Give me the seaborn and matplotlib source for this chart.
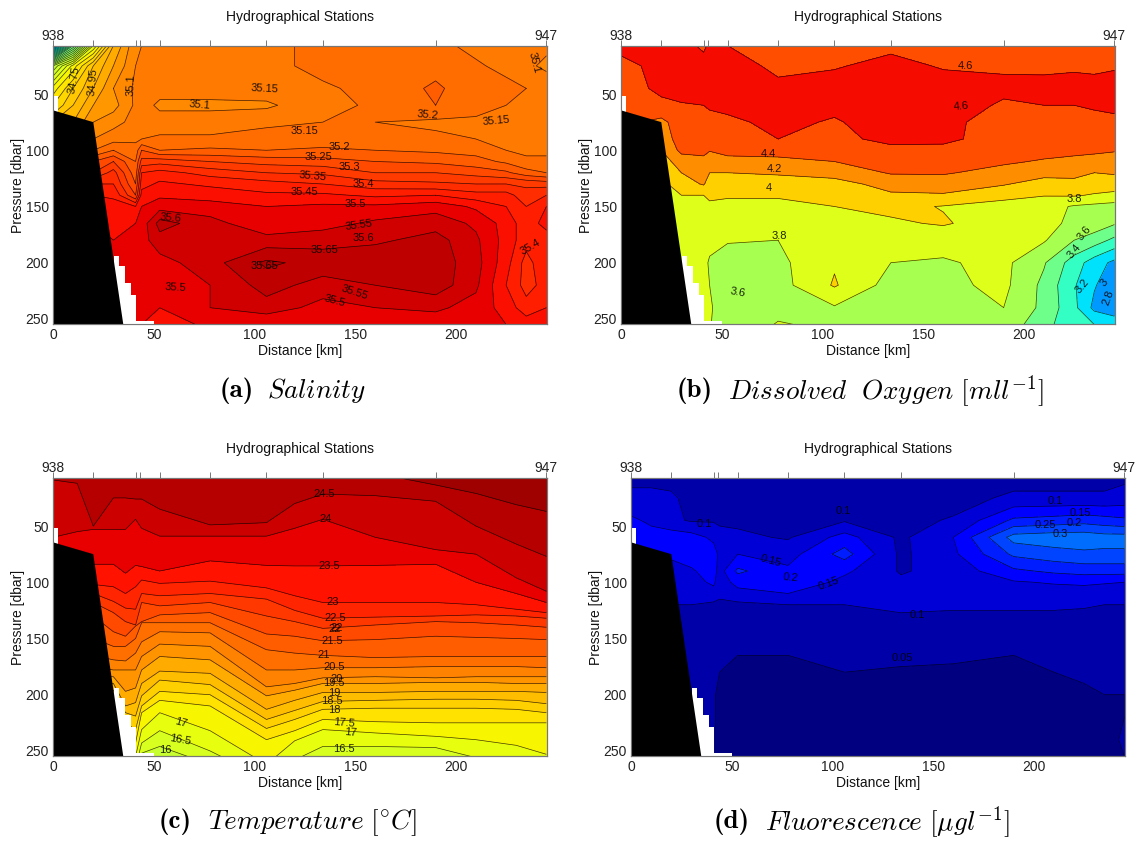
import numpy as np
import matplotlib
matplotlib.use('Agg')
import matplotlib.pyplot as plt
import seaborn as sns

FIG_W, FIG_H = 1146, 842

# stations along the section
station_km = [0, 20, 41, 43, 53, 78, 106, 134, 190, 245]
station_labels = ['938', '', '', '', '', '', '', '', '', '947']

# seabed and the blanked cells next to it
seabed_x = [0, 20, 35, 0]
seabed_z = [64.5, 75, 256, 256]
stair_x = [30.5, 33, 33, 36, 36, 38.5, 38.5, 41, 41, 50, 50, 30]
stair_z = [194, 194, 203, 203, 218, 218, 229, 229, 252, 252, 256, 256]
notch_x = [0, 2.3, 2.3, 0]
notch_z = [52, 52, 66, 66]

grid_km = [0, 10, 20, 30, 41, 44, 53, 78, 106, 134, 160, 190, 210, 225, 235, 245]
grid_z = [7, 25, 45, 60, 75, 90, 100, 110, 120, 130, 140, 150, 165, 180, 200, 220, 240, 255]

# one list per station column, top to bottom
salinity_cols = [
    [33.6, 34.5, 34.72, 34.8, 34.9, 35.0, 35.1, 35.2, 35.3, 35.4, 35.45, 35.5, 35.5, 35.5, 35.5, 35.5, 35.5, 35.5],
    [34.2, 34.72, 34.85, 34.9, 34.95, 35.05, 35.15, 35.25, 35.3, 35.4, 35.45, 35.5, 35.5, 35.5, 35.5, 35.5, 35.5, 35.5],
    [34.65, 34.9, 34.95, 35.0, 35.05, 35.1, 35.15, 35.25, 35.3, 35.4, 35.45, 35.5, 35.5, 35.5, 35.5, 35.5, 35.5, 35.5],
    [34.95, 35.0, 35.05, 35.03, 35.08, 35.13, 35.2, 35.3, 35.37, 35.4, 35.44, 35.47, 35.48, 35.5, 35.5, 35.5, 35.5, 35.5],
    [35.09, 35.1, 35.11, 35.11, 35.12, 35.14, 35.17, 35.2, 35.22, 35.25, 35.3, 35.45, 35.5, 35.5, 35.5, 35.5, 35.5, 35.5],
    [35.1, 35.11, 35.12, 35.12, 35.12, 35.15, 35.25, 35.32, 35.4, 35.43, 35.47, 35.5, 35.52, 35.53, 35.52, 35.5, 35.5, 35.5],
    [35.11, 35.12, 35.12, 35.09, 35.12, 35.16, 35.2, 35.33, 35.42, 35.46, 35.49, 35.53, 35.62, 35.58, 35.53, 35.52, 35.5, 35.45],
    [35.12, 35.13, 35.12, 35.09, 35.12, 35.16, 35.21, 35.3, 35.38, 35.44, 35.48, 35.52, 35.57, 35.56, 35.58, 35.55, 35.55, 35.52],
    [35.13, 35.14, 35.13, 35.09, 35.14, 35.17, 35.2, 35.28, 35.35, 35.42, 35.46, 35.5, 35.51, 35.57, 35.66, 35.62, 35.58, 35.5],
    [35.17, 35.16, 35.145, 35.14, 35.15, 35.17, 35.21, 35.27, 35.34, 35.4, 35.46, 35.51, 35.53, 35.58, 35.63, 35.58, 35.53, 35.51],
    [35.17, 35.17, 35.16, 35.155, 35.15, 35.17, 35.2, 35.25, 35.3, 35.37, 35.44, 35.51, 35.56, 35.59, 35.64, 35.6, 35.55, 35.52],
    [35.16, 35.18, 35.21, 35.2, 35.14, 35.16, 35.19, 35.24, 35.3, 35.36, 35.45, 35.53, 35.58, 35.62, 35.63, 35.63, 35.56, 35.52],
    [35.14, 35.155, 35.165, 35.16, 35.145, 35.15, 35.18, 35.22, 35.28, 35.35, 35.42, 35.49, 35.54, 35.56, 35.57, 35.56, 35.53, 35.52],
    [35.13, 35.14, 35.16, 35.15, 35.13, 35.14, 35.15, 35.19, 35.26, 35.35, 35.42, 35.45, 35.48, 35.48, 35.47, 35.45, 35.48, 35.5],
    [35.1, 35.11, 35.15, 35.14, 35.12, 35.13, 35.14, 35.16, 35.22, 35.34, 35.37, 35.4, 35.42, 35.42, 35.38, 35.38, 35.42, 35.48],
    [35.11, 35.09, 35.13, 35.13, 35.11, 35.12, 35.14, 35.16, 35.2, 35.33, 35.4, 35.45, 35.47, 35.42, 35.44, 35.42, 35.45, 35.5],
]
oxygen_cols = [
    [4.62, 4.58, 4.55, 4.5, 4.4, 4.3, 4.2, 4.1, 4.0, 3.95, 3.9, 3.9, 3.9, 3.85, 3.85, 3.85, 3.85, 3.85],
    [4.65, 4.6, 4.57, 4.5, 4.4, 4.3, 4.2, 4.1, 4.0, 3.95, 3.9, 3.9, 3.9, 3.85, 3.85, 3.85, 3.85, 3.85],
    [4.65, 4.62, 4.65, 4.55, 4.35, 4.3, 4.2, 4.1, 4.0, 3.95, 3.9, 3.9, 3.9, 3.85, 3.85, 3.85, 3.85, 3.85],
    [4.7, 4.7, 4.7, 4.58, 4.5, 4.48, 4.45, 4.3, 4.2, 4.1, 4.0, 3.98, 3.9, 3.87, 3.85, 3.85, 3.85, 3.85],
    [4.55, 4.7, 4.7, 4.6, 4.55, 4.5, 4.42, 4.38, 4.3, 4.22, 4.0, 3.95, 3.9, 3.87, 3.85, 3.85, 3.85, 3.85],
    [4.65, 4.7, 4.7, 4.62, 4.55, 4.47, 4.41, 4.3, 4.2, 4.1, 4.03, 3.97, 3.9, 3.85, 3.78, 3.8, 3.82, 3.82],
    [4.6, 4.7, 4.72, 4.65, 4.56, 4.5, 4.42, 4.38, 4.2, 4.1, 4.02, 3.95, 3.9, 3.83, 3.62, 3.65, 3.7, 3.6],
    [4.55, 4.55, 4.65, 4.68, 4.65, 4.6, 4.43, 4.38, 4.22, 4.12, 4.02, 3.95, 3.88, 3.8, 3.75, 3.72, 3.72, 3.82],
    [4.5, 4.58, 4.7, 4.65, 4.58, 4.55, 4.5, 4.4, 4.25, 4.15, 4.06, 4.0, 3.9, 3.85, 3.98, 4.02, 3.78, 3.75],
    [4.55, 4.67, 4.7, 4.7, 4.7, 4.65, 4.55, 4.48, 4.42, 4.25, 4.18, 4.05, 3.97, 3.88, 3.8, 3.72, 3.72, 3.72],
    [4.5, 4.58, 4.7, 4.72, 4.65, 4.65, 4.54, 4.5, 4.42, 4.3, 4.18, 3.99, 4.02, 3.87, 3.78, 3.75, 3.78, 3.72],
    [4.5, 4.57, 4.65, 4.57, 4.52, 4.5, 4.48, 4.43, 4.33, 4.22, 4.04, 3.95, 3.9, 3.87, 3.85, 3.85, 3.8, 3.75],
    [4.55, 4.58, 4.63, 4.6, 4.55, 4.5, 4.47, 4.38, 4.28, 4.1, 4.01, 3.88, 3.87, 3.82, 3.62, 3.55, 3.55, 3.45],
    [4.55, 4.58, 4.65, 4.6, 4.55, 4.5, 4.45, 4.35, 4.25, 4.15, 4.02, 3.78, 3.75, 3.6, 3.3, 3.22, 3.25, 3.3],
    [4.52, 4.57, 4.65, 4.62, 4.55, 4.5, 4.45, 4.3, 4.2, 4.12, 3.98, 3.75, 3.72, 3.5, 3.1, 3.02, 2.95, 3.2],
    [4.5, 4.58, 4.68, 4.63, 4.57, 4.5, 4.42, 4.28, 4.22, 4.1, 3.95, 3.72, 3.62, 3.35, 2.95, 2.85, 2.8, 3.2],
]
fluor_cols = [
    [.09, .11, .16, .16, .16, .15, .14, .12, .1, .09, .08, .07, .06, .06, .05, .05, .05, .05],
    [.09, .11, .14, .17, .16, .15, .14, .12, .1, .09, .08, .07, .06, .06, .05, .05, .05, .05],
    [.09, .105, .11, .18, .155, .14, .13, .11, .1, .09, .08, .07, .06, .06, .05, .05, .05, .05],
    [.08, .09, .095, .17, .17, .145, .13, .12, .1, .1, .09, .08, .07, .07, .06, .06, .055, .055],
    [.09, .09, .095, .14, .17, .17, .16, .13, .09, .08, .07, .07, .06, .06, .055, .055, .055, .055],
    [.085, .09, .09, .12, .14, .13, .12, .11, .09, .08, .07, .07, .06, .05, .04, .04, .04, .04],
    [.09, .09, .09, .11, .15, .21, .17, .13, .09, .09, .07, .055, .05, .045, .04, .04, .04, .04],
    [.09, .09, .09, .095, .13, .16, .19, .15, .1, .08, .07, .06, .05, .045, .04, .04, .04, .04],
    [.08, .09, .095, .17, .22, .16, .135, .115, .1, .09, .08, .07, .06, .05, .04, .04, .04, .04],
    [.07, .08, .085, .09, .09, .095, .11, .11, .105, .098, .085, .075, .06, .045, .04, .04, .04, .04],
    [.08, .08, .105, .15, .14, .12, .115, .11, .105, .095, .085, .07, .055, .045, .04, .04, .04, .04],
    [.08, .11, .21, .32, .26, .19, .145, .125, .105, .095, .085, .07, .05, .042, .04, .04, .04, .04],
    [.08, .11, .22, .33, .28, .21, .155, .125, .105, .095, .08, .07, .06, .05, .04, .04, .04, .04],
    [.08, .11, .23, .33, .29, .22, .16, .125, .105, .09, .08, .07, .06, .055, .045, .04, .04, .04],
    [.08, .11, .22, .32, .29, .22, .155, .12, .1, .09, .08, .07, .06, .055, .05, .045, .045, .045],
    [.09, .12, .21, .32, .29, .22, .15, .12, .1, .09, .08, .07, .06, .055, .05, .05, .052, .05],
]

# temperature is nicely layered so it is read as isotherm depths
temp_km = [0, 12, 20, 30, 36, 41, 44, 53, 78, 106, 120, 134, 160, 190, 210, 230, 245]
temp_values = [25.5, 25, 24.5, 24, 23.5, 23, 22.5, 22, 21.5, 21, 20.5, 20, 19.5, 19, 18.5, 18, 17.5, 17, 16.5, 16, 15.5]
temp_depths = [
    [0] * 17,
    [3, 3, 3, 3, 3, 3, 3, 3, 3, 3, 3, 3, 3, 13.5, 21, 31, 37],
    [9, 12, 50, 25, 25, 26, 26, 35, 49, 47, 30, 21.6, 23, 28, 50, 66, 77],
    [60, 55, 53, 53, 53, 44, 52, 59, 59, 59, 52, 44, 60, 71, 75, 96, 108],
    [84, 84, 84, 84, 92, 85, 86, 90, 81, 85, 85.5, 85.5, 85, 84, 100, 110, 118],
    [102, 102, 102, 104, 110, 104, 98, 101, 99, 105, 112, 118, 118, 118, 120, 124, 127],
    [110, 110, 110, 117, 123, 124, 110, 112, 110, 115, 125, 132, 131, 130, 129, 130, 132],
    [118, 118, 118, 127, 135, 138, 118, 121, 118, 130, 135, 141, 138, 135, 136, 138, 140],
    [130, 130, 130, 144, 148, 139, 135, 129, 127, 146, 148, 152, 151, 148, 149, 150, 151],
    [150, 150, 150, 157, 157, 150, 136, 136, 136, 160, 163, 165, 167, 166, 166, 166, 166],
    [165, 165, 165, 169, 170, 163, 153, 144, 145, 178, 178, 176, 176, 175, 175, 175, 176],
    [175, 175, 175, 178, 178, 178, 166, 155, 157, 193, 190, 185, 184, 185, 184, 184, 184],
    [184, 184, 184, 184, 197, 194, 178, 166, 169, 201, 196, 190, 190, 189, 189, 190, 190],
    [190, 190, 190, 190, 210, 207, 190, 179, 181, 213, 205, 198, 198, 197, 197, 197, 198],
    [196, 196, 196, 196, 216, 219, 201, 187, 191, 222, 214, 206, 205, 204, 204, 205, 208],
    [201, 201, 201, 201, 225, 231, 210, 197, 200, 230, 222, 213, 212, 212, 212, 213, 216],
    [210, 210, 210, 210, 240, 243, 216, 205, 210, 240, 232, 222, 224, 225, 225, 225, 225],
    [220, 220, 220, 220, 255, 255, 231, 216, 232, 262, 241, 231, 234, 237, 240, 245, 253],
    [240, 240, 240, 240, 265, 265, 243, 232, 250, 275, 258, 246, 246, 247, 256, 265, 275],
    [255, 255, 255, 255, 275, 275, 252, 246, 262, 285, 275, 265, 265, 268, 270, 275, 285],
    [300] * 17,
]

salinity_levels = np.arange(33.5, 35.9, 0.05)
oxygen_levels = np.arange(2.6, 5.0, 0.2)
temp_levels = np.arange(15.5, 26, 0.5)
fluor_levels = np.arange(0, 0.4, 0.05)

# contour labels: text, km, dbar, rotation
salinity_labels = [
    ('34.75', 10.5, 37, 80), ('34.95', 20, 39, 85), ('35.1', 38.6, 42, 88), ('35.15', 105, 45, -3),
    ('35.1', 73, 59.5, -5), ('35.2', 186, 69, -5), ('35.15', 220, 74, 5), ('35.15', 125, 83, 0),
    ('35.2', 142, 97, 0), ('35.25', 132, 106, 0), ('35.3', 147, 115, 0), ('35.35', 129, 123, -5),
    ('35.4', 154, 130, 0), ('35.45', 125, 137, 0), ('35.5', 150, 148, 0), ('35.55', 152, 167, 8),
    ('35.6', 154, 178, 0), ('35.65', 135, 189, 0), ('35.65', 105, 203, 0), ('35.6', 58.5, 160, -5),
    ('35.5', 61, 222, -3), ('35.55', 150, 226, -18), ('35.5', 140, 234, -15), ('35.4', 237, 186, 30),
    ('35.1', 239, 22, -75),
]
oxygen_labels = [
    ('4.6', 171, 25, 0), ('4.6', 169, 61, 5), ('4.4', 73, 103, 0), ('4.2', 76, 117, 0), ('4', 73.6, 134, 0),
    ('3.8', 78.5, 176, 0), ('3.6', 58, 226, -10), ('3.8', 225, 143, 0), ('3.6', 230, 174, 50),
    ('3.4', 225, 190, 50), ('3.2', 229, 221, 50), ('3', 240, 218, 50), ('2.8', 242, 231, 70),
]
temp_labels = [
    ('24.5', 134.7, 21.6, 0), ('24', 135.6, 43.5, 0), ('23.5', 137, 85.5, 0), ('23', 139, 118, 0),
    ('22.5', 140, 132, 0), ('22', 140, 142, 0), ('22', 141, 141, 0), ('21.5', 138.7, 152, 0), ('21', 134.4, 165, 0),
    ('20.5', 139.6, 175.6, 0), ('20', 141, 186, 0), ('19.5', 139.6, 189.5, 0), ('19', 139.6, 198.4, 0),
    ('18.5', 138.4, 206, 0), ('18', 139.6, 214, 0), ('17.5', 144.3, 225, -5), ('17', 147.8, 234, -5),
    ('17', 63.5, 225, -15), ('16.5', 63, 240.5, -10), ('16', 56, 249, 0), ('16.5', 144.3, 248, 0),
]
fluor_labels = [
    ('0.1', 210.7, 27.5, 0), ('0.15', 223, 38, 0), ('0.2', 220, 47, 0), ('0.25', 206, 49, 0), ('0.3', 213, 57.4, 0),
    ('0.1', 36.6, 48.5, 0), ('0.1', 105.5, 36.7, 0), ('0.15', 69.4, 81, -15), ('0.2', 79, 95.6, -5),
    ('0.15', 98, 100.7, 20), ('0.1', 142, 129.4, 0), ('0.05', 134.7, 167, 0),
]

sns.set_theme(style='white')
plt.rcParams['font.family'] = ['Liberation Sans', 'DejaVu Sans']
plt.rcParams['mathtext.fontset'] = 'cm'
jet = plt.get_cmap('jet')


def make_axes(fig, left, top, width=494, height=278):
    return fig.add_axes([left / FIG_W, 1 - (top + height) / FIG_H, width / FIG_W, height / FIG_H])


def decorate(ax, labels):
    for text, km, dbar, rot in labels:
        ax.text(km, dbar, text, fontsize=8, color='black', rotation=rot, ha='center', va='center', alpha=0.85, zorder=4)
    ax.fill(stair_x, stair_z, color='white', lw=0, zorder=3)
    ax.fill(notch_x, notch_z, color='white', lw=0, zorder=3)
    ax.fill(seabed_x, seabed_z, color='black', lw=0, zorder=3)
    ax.set_xlim(0, 245.3)
    ax.set_ylim(254.5, 7.3)
    ax.set_xticks([0, 50, 100, 150, 200])
    ax.set_yticks([50, 100, 150, 200, 250])
    ax.tick_params(length=0, labelsize=10, colors='#222222', pad=3)
    ax.set_xlabel('Distance [km]', fontsize=10, labelpad=1.5, color='#111111')
    ax.set_ylabel('Pressure [dbar]', fontsize=10, labelpad=0, color='#111111')
    top_ax = ax.twiny()
    top_ax.set_xlim(0, 245.3)
    top_ax.set_xticks(station_km)
    top_ax.set_xticklabels(station_labels, fontsize=10, color='#222222')
    top_ax.tick_params(axis='x', length=4.3, width=0.7, color='#777777', pad=-1.9, direction='out', bottom=False, top=True)
    top_ax.set_title('Hydrographical Stations', fontsize=10, y=1.09, pad=0, color='#111111')
    for a in (ax, top_ax):
        for s in a.spines.values():
            s.set_color('#777777')
            s.set_linewidth(0.8)


def grid_panel(fig, left, top, cols, levels, vmin, vmax, labels):
    ax = make_axes(fig, left, top)
    values = np.array(cols).T
    ax.contourf(grid_km, grid_z, values, levels=levels, cmap=jet, vmin=vmin, vmax=vmax)
    ax.contour(grid_km, grid_z, values, levels=levels, colors='black', linewidths=0.5, alpha=0.75)
    decorate(ax, labels)


fig = plt.figure(figsize=(FIG_W / 100, FIG_H / 100), dpi=100)

grid_panel(fig, 53, 46, salinity_cols, salinity_levels, 32.74, 35.80, salinity_labels)
grid_panel(fig, 621, 46, oxygen_cols, oxygen_levels, 2.1, 5.0, oxygen_labels)

ax_c = make_axes(fig, 53, 478)
depth = np.array(temp_depths, dtype=float)
km2d = np.tile(temp_km, (len(temp_values), 1))
val2d = np.tile(np.array(temp_values)[:, None], (1, len(temp_km)))
ax_c.contourf(km2d, depth, val2d, levels=temp_levels, cmap=jet, vmin=1, vmax=26)
ax_c.contour(km2d, depth, val2d, levels=temp_levels[1:-1], colors='black', linewidths=0.5, alpha=0.75)
decorate(ax_c, temp_labels)

grid_panel(fig, 631, 478, fluor_cols, fluor_levels, 0.025, 1.325, fluor_labels)

# captions: bold tag, italic name, pixel position of each
captions = [
    ('(a)', r'$\mathit{Salinity}$', 254, 267, 387),
    ('(b)', r'$\mathit{Dissolved\ \ Oxygen\ [mll^{-1}]}$', 713, 728, 387),
    ('(c)', r'$\mathit{Temperature\ [^{\circ}C]}$', 192, 208, 818),
    ('(d)', r'$\mathit{Fluorescence\ [\mu gl^{-1}]}$', 750, 765, 818),
]
for tag, name, tag_px, name_px, py in captions:
    fig.text(tag_px / FIG_W, 1 - py / FIG_H, tag, family='cmb10', fontsize=19.5, ha='right', va='center_baseline', color='black')
    fig.text(name_px / FIG_W, 1 - py / FIG_H, name, fontsize=19.5, ha='left', va='center_baseline', color='black')

plt.savefig('out.png', dpi=100)
